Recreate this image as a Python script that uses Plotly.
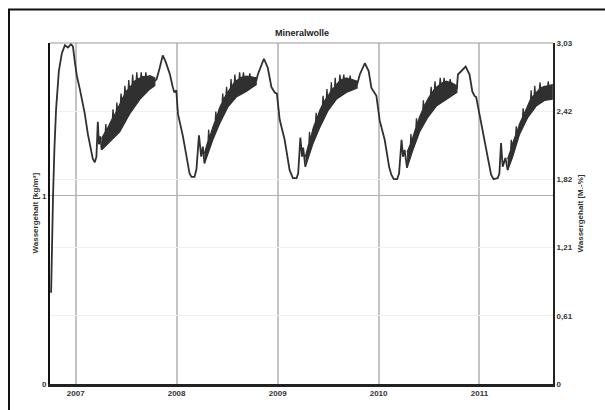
import plotly.graph_objects as go

# ---------------- data (values in M.-%) ----------------
# smooth parts of the water-content curve
seg1_dates = ["2006-10-04", "2006-10-07", "2006-10-11", "2006-10-16", "2006-10-22", "2006-11-01",
              "2006-11-12", "2006-11-23", "2006-12-04", "2006-12-15", "2006-12-22", "2006-12-29",
              "2007-01-05", "2007-01-16", "2007-01-23", "2007-02-03", "2007-02-14", "2007-02-25",
              "2007-03-04", "2007-03-11", "2007-03-17", "2007-03-22", "2007-03-26", "2007-03-31",
              "2007-04-05"]
seg1_vals = [0.81, 1.29, 1.67, 2.09, 2.44, 2.78, 2.94, 3.01, 2.99, 3.02, 3.00, 2.86,
             2.74, 2.62, 2.53, 2.40, 2.22, 2.08, 2.00, 1.97, 2.02, 2.33, 2.13, 2.20, 2.08]

seg2_dates = ["2007-10-14", "2007-10-21", "2007-11-01", "2007-11-12", "2007-11-23", "2007-12-08",
              "2007-12-18", "2007-12-24", "2007-12-31", "2008-01-06", "2008-01-24", "2008-02-05",
              "2008-02-17", "2008-02-24", "2008-03-06", "2008-03-13", "2008-03-22", "2008-03-30",
              "2008-04-05", "2008-04-11"]
seg2_vals = [2.69, 2.71, 2.81, 2.92, 2.86, 2.75, 2.64, 2.59, 2.61, 2.40, 2.20, 2.02,
             1.87, 1.84, 1.84, 1.91, 2.21, 2.02, 2.11, 1.96]

seg3_dates = ["2008-10-15", "2008-10-21", "2008-11-12", "2008-11-26", "2008-12-09", "2008-12-21",
              "2008-12-29", "2009-01-08", "2009-01-26", "2009-02-13", "2009-02-25", "2009-03-10",
              "2009-03-16", "2009-03-24", "2009-03-30", "2009-04-03", "2009-04-11"]
seg3_vals = [2.69, 2.75, 2.89, 2.81, 2.64, 2.59, 2.58, 2.35, 2.17, 1.90, 1.83, 1.83,
             1.87, 2.19, 2.02, 2.10, 1.93]

seg4_dates = ["2009-10-15", "2009-10-25", "2009-11-12", "2009-11-26", "2009-12-06", "2009-12-18",
              "2009-12-24", "2010-01-05", "2010-01-23", "2010-02-08", "2010-02-16", "2010-02-25",
              "2010-03-09", "2010-03-16", "2010-03-25", "2010-03-30", "2010-04-05", "2010-04-14"]
seg4_vals = [2.66, 2.75, 2.85, 2.78, 2.63, 2.58, 2.56, 2.34, 2.17, 1.93, 1.86, 1.82,
             1.82, 1.87, 2.17, 2.02, 2.08, 1.92]

seg5_dates = ["2010-10-11", "2010-10-15", "2010-11-12", "2010-11-26", "2010-12-06", "2010-12-14",
              "2010-12-20", "2011-01-01", "2011-01-19", "2011-02-06", "2011-02-12", "2011-02-21",
              "2011-03-08", "2011-03-14", "2011-03-20", "2011-03-26", "2011-04-05", "2011-04-13"]
seg5_vals = [2.62, 2.75, 2.82, 2.75, 2.60, 2.56, 2.55, 2.40, 2.17, 1.93, 1.86, 1.82,
             1.83, 1.87, 2.14, 1.93, 2.01, 1.90]

# dense daily oscillation in spring/summer: lower envelope and spiky upper envelope
band1_low_dates = ["2007-04-05", "2007-05-04", "2007-06-09", "2007-07-15", "2007-08-21", "2007-09-26", "2007-10-14"]
band1_low = [2.08, 2.15, 2.24, 2.40, 2.53, 2.62, 2.65]
band1_high_dates = ["2007-04-05", "2007-04-18", "2007-04-20", "2007-04-22", "2007-05-04",
                    "2007-05-14", "2007-05-16", "2007-05-18", "2007-05-28", "2007-05-30", "2007-06-01",
                    "2007-06-12", "2007-06-14", "2007-06-16", "2007-06-26", "2007-06-28", "2007-06-30",
                    "2007-07-10", "2007-07-12", "2007-07-14", "2007-07-24", "2007-07-26", "2007-07-28",
                    "2007-08-08", "2007-08-10", "2007-08-12", "2007-08-24", "2007-08-26", "2007-08-28",
                    "2007-09-10", "2007-09-12", "2007-09-14", "2007-09-26", "2007-10-14"]
band1_high = [2.18, 2.24, 2.31, 2.25, 2.31,
              2.36, 2.44, 2.37, 2.42, 2.50, 2.44,
              2.50, 2.58, 2.52, 2.57, 2.65, 2.59,
              2.62, 2.70, 2.63, 2.66, 2.75, 2.68,
              2.70, 2.77, 2.71, 2.72, 2.77, 2.73,
              2.73, 2.77, 2.73, 2.74, 2.72]

band2_low_dates = ["2008-04-11", "2008-05-11", "2008-06-04", "2008-07-04", "2008-08-04", "2008-09-09", "2008-10-15"]
band2_low = [1.96, 2.17, 2.31, 2.46, 2.55, 2.60, 2.66]
band2_high_dates = ["2008-04-11", "2008-04-24", "2008-04-26", "2008-04-28", "2008-05-11",
                    "2008-05-20", "2008-05-22", "2008-05-24", "2008-06-04",
                    "2008-06-14", "2008-06-16", "2008-06-18", "2008-06-28", "2008-06-30", "2008-07-02",
                    "2008-07-14", "2008-07-16", "2008-07-18", "2008-07-28", "2008-07-30", "2008-08-01",
                    "2008-08-14", "2008-08-16", "2008-08-18", "2008-08-28", "2008-08-30", "2008-09-01",
                    "2008-09-09", "2008-09-20", "2008-09-22", "2008-09-24", "2008-10-15"]
band2_high = [2.05, 2.16, 2.26, 2.18, 2.28,
              2.34, 2.42, 2.36, 2.45,
              2.50, 2.58, 2.52, 2.57, 2.64, 2.58,
              2.63, 2.71, 2.64, 2.68, 2.75, 2.69,
              2.71, 2.77, 2.72, 2.73, 2.77, 2.73,
              2.735, 2.73, 2.76, 2.73, 2.72]

band3_low_dates = ["2009-04-11", "2009-05-09", "2009-06-02", "2009-07-02", "2009-08-01", "2009-09-06", "2009-10-15"]
band3_low = [1.93, 2.14, 2.28, 2.43, 2.53, 2.59, 2.63]
band3_high_dates = ["2009-04-11", "2009-04-24", "2009-04-26", "2009-04-28", "2009-05-09",
                    "2009-05-18", "2009-05-20", "2009-05-22", "2009-06-02",
                    "2009-06-12", "2009-06-14", "2009-06-16", "2009-06-26", "2009-06-28", "2009-06-30",
                    "2009-07-12", "2009-07-14", "2009-07-16", "2009-07-26", "2009-07-28", "2009-07-30",
                    "2009-08-12", "2009-08-14", "2009-08-16", "2009-08-26", "2009-08-28", "2009-08-30",
                    "2009-09-06", "2009-09-18", "2009-09-20", "2009-09-22", "2009-10-15"]
band3_high = [2.02, 2.14, 2.24, 2.16, 2.27,
              2.33, 2.41, 2.35, 2.43,
              2.48, 2.56, 2.50, 2.54, 2.62, 2.55,
              2.60, 2.68, 2.61, 2.64, 2.72, 2.65,
              2.69, 2.75, 2.70, 2.71, 2.75, 2.71,
              2.72, 2.71, 2.74, 2.71, 2.69]

band4_low_dates = ["2010-04-14", "2010-05-05", "2010-05-29", "2010-06-28", "2010-07-29", "2010-09-03", "2010-10-11"]
band4_low = [1.92, 2.08, 2.24, 2.37, 2.47, 2.53, 2.59]
band4_high_dates = ["2010-04-14", "2010-04-26", "2010-04-28", "2010-04-30", "2010-05-05",
                    "2010-05-16", "2010-05-18", "2010-05-20", "2010-05-29",
                    "2010-06-10", "2010-06-12", "2010-06-14", "2010-06-28",
                    "2010-07-08", "2010-07-10", "2010-07-12", "2010-07-22", "2010-07-24", "2010-07-26",
                    "2010-08-10", "2010-08-12", "2010-08-14", "2010-08-24", "2010-08-26", "2010-08-28",
                    "2010-09-03", "2010-09-15", "2010-09-17", "2010-09-19", "2010-10-11"]
band4_high = [2.06, 2.13, 2.22, 2.15, 2.20,
              2.28, 2.36, 2.30, 2.37,
              2.44, 2.52, 2.46, 2.53,
              2.57, 2.64, 2.58, 2.62, 2.69, 2.63,
              2.66, 2.72, 2.67, 2.68, 2.72, 2.68,
              2.69, 2.68, 2.71, 2.68, 2.65]

band5_low_dates = ["2011-04-13", "2011-05-01", "2011-05-26", "2011-06-25", "2011-07-25", "2011-08-24", "2011-09-21"]
band5_low = [1.90, 2.02, 2.22, 2.37, 2.47, 2.52, 2.53]
band5_high_dates = ["2011-04-13", "2011-04-24", "2011-04-26", "2011-04-28", "2011-05-01",
                    "2011-05-12", "2011-05-14", "2011-05-16", "2011-05-26",
                    "2011-06-06", "2011-06-08", "2011-06-10", "2011-06-25",
                    "2011-07-05", "2011-07-07", "2011-07-09", "2011-07-18", "2011-07-20", "2011-07-22",
                    "2011-08-06", "2011-08-08", "2011-08-10", "2011-08-24",
                    "2011-09-05", "2011-09-07", "2011-09-09", "2011-09-21"]
band5_high = [2.00, 2.08, 2.17, 2.10, 2.14,
              2.21, 2.29, 2.23, 2.31,
              2.37, 2.45, 2.39, 2.48,
              2.53, 2.61, 2.54, 2.57, 2.65, 2.58,
              2.62, 2.68, 2.63, 2.645,
              2.65, 2.69, 2.65, 2.66]

year_ticks = ["2007-01-01", "2008-01-01", "2009-01-01", "2010-01-01", "2011-01-01"]
year_labels = ["2007", "2008", "2009", "2010", "2011"]
right_tickvals = [0, 0.606, 1.212, 1.818, 2.424, 3.03]
right_ticktext = ["0", "0,61", "1,21", "1,82", "2,42", "3,03"]
left_tickvals = [0, 1]
left_ticktext = ["0", "1"]
title_text = "Mineralwolle"
left_title = "Wassergehalt [kg/m³]"
right_title = "Wassergehalt [M.-%]"

# ---------------- figure ----------------
W, H = 605, 410
L, R, T, B = 50, 553, 43, 389
LINE = "#303030"
FONT = "Liberation Sans"

fig = go.Figure()

# carrier trace so the left (kg/m³) axis is drawn
fig.add_trace(go.Scatter(x=[], y=[], yaxis="y", mode="lines", hoverinfo="skip", showlegend=False))

segments = [(seg1_dates, seg1_vals), (seg2_dates, seg2_vals), (seg3_dates, seg3_vals),
            (seg4_dates, seg4_vals), (seg5_dates, seg5_vals)]
for d, v in segments:
    fig.add_trace(go.Scatter(x=d, y=v, mode="lines", yaxis="y2",
                             line=dict(color=LINE, width=1.8), hoverinfo="skip", showlegend=False))

bands = [(band1_low_dates, band1_low, band1_high_dates, band1_high),
         (band2_low_dates, band2_low, band2_high_dates, band2_high),
         (band3_low_dates, band3_low, band3_high_dates, band3_high),
         (band4_low_dates, band4_low, band4_high_dates, band4_high),
         (band5_low_dates, band5_low, band5_high_dates, band5_high)]
for dl, lo, dh, hi in bands:
    fig.add_trace(go.Scatter(x=list(dl) + list(dh)[::-1], y=list(lo) + list(hi)[::-1],
                             mode="lines", fill="toself", fillcolor=LINE, yaxis="y2",
                             line=dict(color=LINE, width=1.3), hoverinfo="skip", showlegend=False))

def px(xp):
    return (xp - L) / (R - L)

def py(yp):
    return (B - yp) / (B - T)

fig.update_layout(
    width=W, height=H,
    margin=dict(l=L, r=W - R, t=T, b=H - B, pad=0),
    paper_bgcolor="white", plot_bgcolor="white",
    font=dict(family=FONT, size=8, color="#333333"),
    showlegend=False,
    xaxis=dict(type="date", range=["2006-09-30", "2011-09-24"],
               tickvals=year_ticks, ticktext=["<b>%s</b>" % t for t in year_labels],
               showgrid=True, gridcolor="#c4c4c4", gridwidth=1.5,
               showline=True, linecolor="#222222", linewidth=2.5,
               ticks="", zeroline=False, tickfont=dict(size=8, color="#333333")),
    yaxis=dict(range=[0, 1.8115], tickvals=left_tickvals,
               ticktext=["<b>%s</b>" % t for t in left_ticktext],
               showgrid=True, gridcolor="#b0b0b0", gridwidth=1,
               showline=True, linecolor="#111111", linewidth=2,
               ticks="", zeroline=False, tickfont=dict(size=8, color="#333333")),
    yaxis2=dict(range=[0, 3.03], overlaying="y", side="right",
                tickvals=right_tickvals, ticktext=["<b>%s</b>" % t for t in right_ticktext],
                showgrid=True, gridcolor="#f0f0f0", gridwidth=1,
                showline=True, linecolor="#222222", linewidth=2,
                ticks="", zeroline=False, tickfont=dict(size=8, color="#333333")),
    shapes=[
        # top border of plot area
        dict(type="line", xref="paper", yref="paper", x0=0, x1=1, y0=1, y1=1,
             line=dict(color="#9a9a9a", width=1)),
        # outer frame (left and top edges visible, rest beyond the picture)
        dict(type="rect", xref="paper", yref="paper", x0=px(9), x1=px(640), y0=py(440), y1=py(9),
             line=dict(color="#111111", width=2), fillcolor="rgba(0,0,0,0)"),
    ],
    annotations=[
        dict(text="<b>%s</b>" % title_text, xref="paper", yref="paper", x=0.5, y=py(33),
             showarrow=False, font=dict(size=9, color="#222222"), xanchor="center", yanchor="middle"),
        dict(text="<b>%s</b>" % left_title, xref="paper", yref="paper", x=px(35), y=0.5,
             textangle=-90, showarrow=False, font=dict(size=8, color="#333333"),
             xanchor="center", yanchor="middle"),
        dict(text="<b>%s</b>" % right_title, xref="paper", yref="paper", x=px(580), y=0.5,
             textangle=-90, showarrow=False, font=dict(size=8, color="#333333"),
             xanchor="center", yanchor="middle"),
    ],
)

fig.write_html("out.html", config={"displayModeBar": False},
               post_script="document.body.style.margin='0';document.body.style.overflow='hidden';")
